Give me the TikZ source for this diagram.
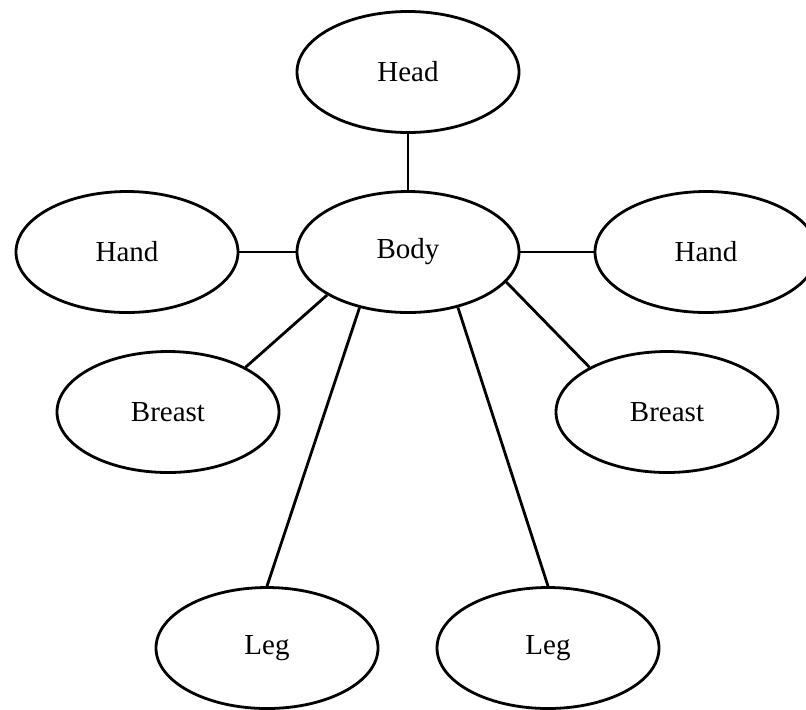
\documentclass[tikz,border=0pt]{standalone}
\usepackage{fontspec}
\setmainfont{Liberation Serif}
\usetikzlibrary{shapes.geometric}
\begin{document}
\begin{tikzpicture}[x=0.5pt,y=0.5pt]
\tikzstyle{part}=[draw=black, line width=1.4pt, ellipse, inner sep=0pt, minimum width=111pt, minimum height=60.5pt, font=\fontsize{14.5}{16}\selectfont]
\useasboundingbox (0,0) rectangle (806,-709);
\node [part] (head) at (408,-72) {Head};
\node [part] (body) at (408,-252) {Body};
\node [part] (handL) at (127,-252) {Hand};
\node [part] (handR) at (706,-252) {Hand};
\node [part] (breastL) at (168,-412) {Breast};
\node [part] (breastR) at (667,-412) {Breast};
\node [part] (legL) at (267,-648) {Leg};
\node [part] (legR) at (548,-648) {Leg};
\draw [black, line width=1.4pt] (head.south) -- (body.north);
\draw [black, line width=1.4pt] (handL.east) -- (body.west);
\draw [black, line width=1.4pt] (body.east) -- (handR.west);
\draw [black, line width=1.4pt] (body.208) -- (breastL.30);
\draw [black, line width=1.4pt] (body.343) -- (breastR.150);
\draw [black, line width=1.4pt] (body.229) -- (legL.north);
\draw [black, line width=1.4pt] (body.312) -- (legR.north);
\end{tikzpicture}
\end{document}
